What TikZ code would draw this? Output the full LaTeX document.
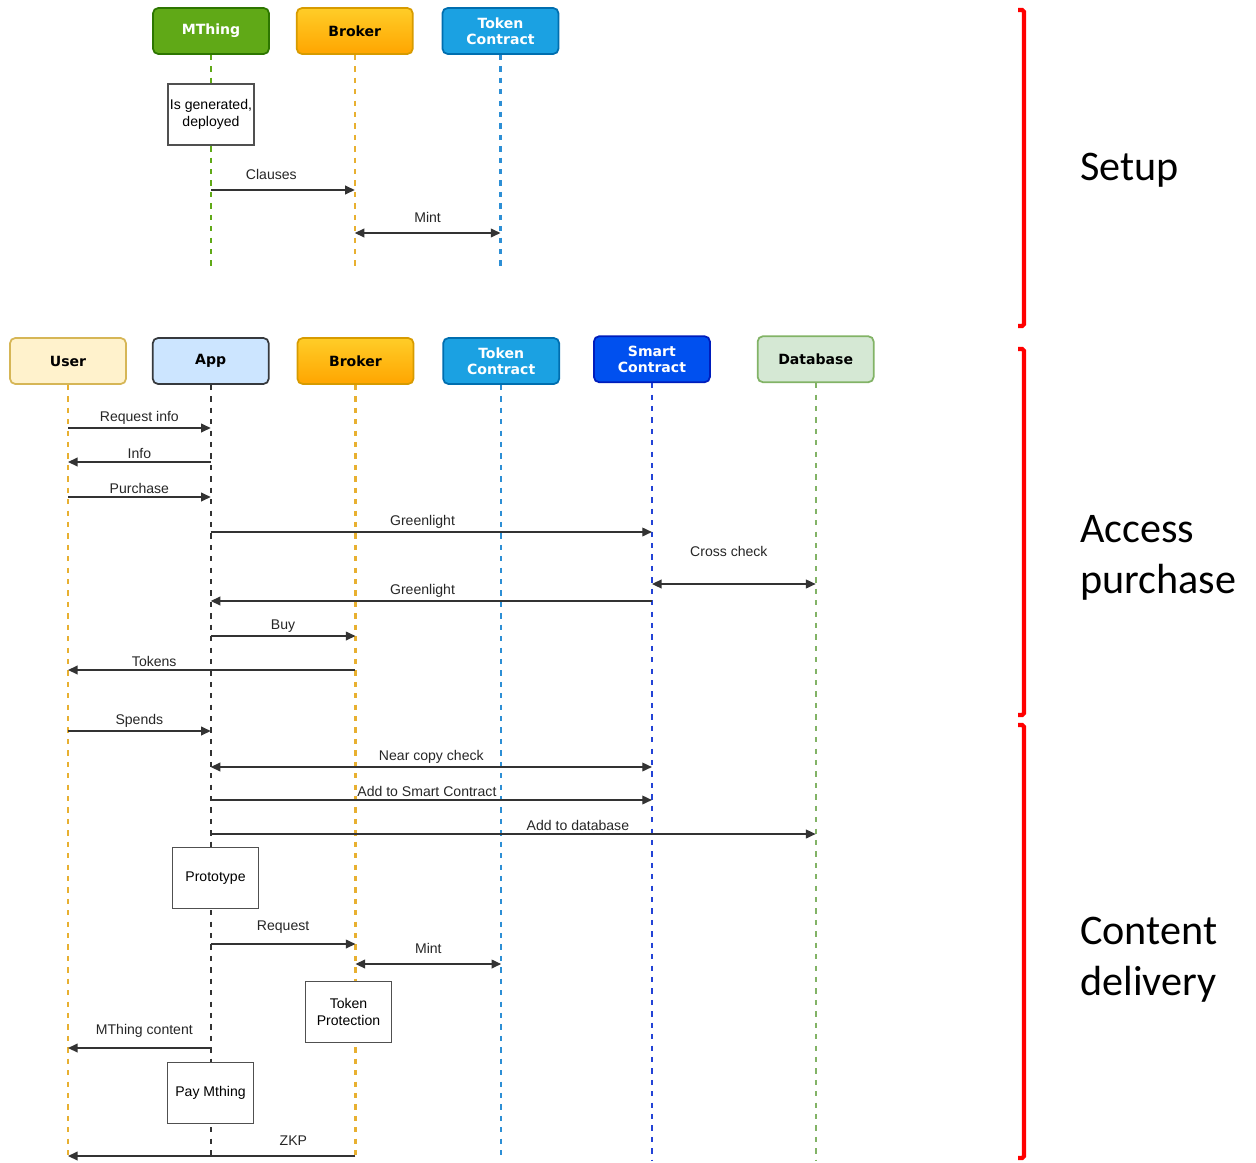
\documentclass[tikz,border=0pt]{standalone}
\usepackage{fontspec}
\setmainfont{Liberation Sans}
\newfontfamily\headfont{DejaVu Sans}
\newfontfamily\sidefont{Carlito}
\usepackage{tikz}
\usetikzlibrary{positioning,arrows.meta}
\definecolor{mthFill}{HTML}{60A917}
\definecolor{mthDraw}{HTML}{2D7600}
\definecolor{brkTop}{HTML}{FFCD28}
\definecolor{brkBot}{HTML}{FFA500}
\definecolor{brkDraw}{HTML}{D79B00}
\definecolor{tokFill}{HTML}{1BA1E2}
\definecolor{tokDraw}{HTML}{006EAF}
\definecolor{usrFill}{HTML}{FFF2CC}
\definecolor{usrDraw}{HTML}{D6B656}
\definecolor{appFill}{HTML}{CCE5FF}
\definecolor{appDraw}{HTML}{36393D}
\definecolor{scFill}{HTML}{0050EF}
\definecolor{scDraw}{HTML}{001DBC}
\definecolor{dbFill}{HTML}{D5E8D4}
\definecolor{dbDraw}{HTML}{82B366}
\definecolor{lifeGold}{HTML}{E8B030}
\definecolor{lifeBlue}{HTML}{2D8FD5}
\definecolor{lifeDeep}{HTML}{2343D6}
\definecolor{msgGray}{HTML}{333333}
\definecolor{boxGray}{HTML}{505050}
\tikzset{
  head/.style={draw, rounded corners=3pt, line width=1pt, minimum width=2.32cm, minimum height=0.92cm, inner sep=1pt, align=center, font=\headfont\bfseries\fontsize{8}{9}\selectfont},
  headMThing/.style={head, fill=mthFill, draw=mthDraw, text=white},
  headBroker/.style={head, top color=brkTop, bottom color=brkBot, draw=brkDraw},
  headToken/.style={head, fill=tokFill, draw=tokDraw, text=white},
  headUser/.style={head, fill=usrFill, draw=usrDraw},
  headApp/.style={head, fill=appFill, draw=appDraw},
  headSmart/.style={head, fill=scFill, draw=scDraw, text=white},
  headDb/.style={head, fill=dbFill, draw=dbDraw},
  life/.style={line width=1.2pt, dash pattern=on 3pt off 3.5pt},
  lifeMThing/.style={life, draw=mthFill},
  lifeBroker/.style={life, draw=lifeGold},
  lifeToken/.style={life, draw=lifeBlue},
  lifeUser/.style={life, draw=lifeGold},
  lifeApp/.style={life, draw=msgGray},
  lifeSmart/.style={life, draw=lifeDeep},
  lifeDb/.style={life, draw=dbDraw},
  actBox/.style={draw=boxGray, fill=white, line width=0.9pt, minimum width=1.72cm, minimum height=1.22cm, inner sep=1pt, align=center, font=\fontsize{8}{9.5}\selectfont},
  msg/.style={-{Triangle[length=5.5pt,width=5pt]}, draw=msgGray, line width=0.8pt},
  msgBoth/.style={{Triangle[length=5.5pt,width=5pt]}-{Triangle[length=5.5pt,width=5pt]}, draw=msgGray, line width=0.8pt},
  msgLabel/.style={above, inner sep=1.5pt, font=\fontsize{8}{9}\selectfont, text=black!85},
  msgLabelHigh/.style={msgLabel, yshift=4pt},
  phase/.style={draw=red, line width=2.3pt, rounded corners=1pt},
  phaseLabel/.style={anchor=west, align=left, font=\sidefont\fontsize{24}{29}\selectfont}
}
\begin{document}
\begin{tikzpicture}[x=0.02cm, y=-0.02cm]
  \useasboundingbox (0,0) rectangle (1256,1162);

  % setup phase
  \node[headMThing] (mthing) at (211,31) {MThing};
  \node[headBroker, right=0.52cm of mthing] (brokerA) {Broker};
  \node[headToken, right=0.56cm of brokerA] (tokenA) {Token\\Contract};

  \draw[lifeMThing] (mthing) -- (mthing |- 0,266);
  \draw[lifeBroker] (brokerA) -- (brokerA |- 0,266);
  \draw[lifeToken] (tokenA) -- (tokenA |- 0,266);

  \node[actBox] (genBox) at (211,114.5) {Is generated,\\deployed};

  \draw[msg] (mthing |- 0,190) -- node[msgLabelHigh, pos=0.42]{Clauses} (brokerA |- 0,190);
  \draw[msgBoth] (brokerA |- 0,233) -- node[msgLabelHigh]{Mint} (tokenA |- 0,233);

  % access purchase + content delivery
  \node[headUser] (user) at (68,361) {User};
  \node[headApp, right=0.50cm of user] (app) {App};
  \node[headBroker, right=0.54cm of app] (broker) {Broker};
  \node[headToken, right=0.56cm of broker] (token) {Token\\Contract};
  \node[headSmart, right=0.66cm of token, yshift=1pt] (smart) {Smart\\Contract};
  \node[headDb, right=0.92cm of smart] (db) {Database};

  \draw[lifeUser] (user) -- (user |- 0,1160);
  \draw[lifeApp] (app) -- (app |- 0,1160);
  \draw[lifeBroker] (broker) -- (broker |- 0,1160);
  \draw[lifeToken] (token) -- (token |- 0,1160);
  \draw[lifeSmart] (smart) -- (smart |- 0,1160);
  \draw[lifeDb] (db) -- (db |- 0,1160);

  \node[actBox] (protoBox) at (215.5,878) {Prototype};
  \node[actBox] (tokProtBox) at (348.5,1012) {Token\\Protection};
  \node[actBox] (payBox) at (210.5,1093) {Pay Mthing};

  \draw[msg] (user |- 0,428) -- node[msgLabel]{Request info} (app |- 0,428);
  \draw[msg] (app |- 0,462) -- node[msgLabel]{Info} (user |- 0,462);
  \draw[msg] (user |- 0,497) -- node[msgLabel]{Purchase} (app |- 0,497);
  \draw[msg] (app |- 0,532) -- node[msgLabel, pos=0.48]{Greenlight} (smart |- 0,532);
  \draw[msgBoth] (smart |- 0,584) -- node[msgLabel, yshift=13.5pt, pos=0.47]{Cross check} (db |- 0,584);
  \draw[msg] (smart |- 0,601) -- node[msgLabel, pos=0.52]{Greenlight} (app |- 0,601);
  \draw[msg] (app |- 0,636) -- node[msgLabel]{Buy} (broker |- 0,636);
  \draw[msg] (broker |- 0,670) -- node[msgLabel, pos=0.7]{Tokens} (user |- 0,670);
  \draw[msg] (user |- 0,731) -- node[msgLabel]{Spends} (app |- 0,731);
  \draw[msgBoth] (app |- 0,767) -- node[msgLabel]{Near copy check} (smart |- 0,767);
  \draw[msg] (app |- 0,800) -- node[msgLabel, pos=0.49]{Add to Smart Contract} (smart |- 0,800);
  \draw[msg] (app |- 0,834) -- node[msgLabel, pos=0.607]{Add to database} (db |- 0,834);

  \draw[msg] (app |- 0,944) -- node[msgLabelHigh]{Request} (broker |- 0,944);
  \draw[msgBoth] (broker |- 0,964) -- node[msgLabelHigh]{Mint} (token |- 0,964);
  \draw[msg] (app |- 0,1048) -- node[msgLabelHigh, pos=0.465]{MThing content} (user |- 0,1048);
  \draw[msg] (broker |- 0,1156) -- node[msgLabelHigh, pos=0.216]{ZKP} (user |- 0,1156);

  % phase brackets
  \draw[phase] (1018,10) -- (1024,10) -- (1024,326) -- (1018,326);
  \draw[phase] (1018,349) -- (1024,349) -- (1024,715) -- (1018,715);
  \draw[phase] (1018,725) -- (1024,725) -- (1024,1158) -- (1018,1158);
  \node[phaseLabel] (setupLbl) at (1074,170) {Setup};
  \node[phaseLabel] (accessLbl) at (1074,558) {Access\\purchase};
  \node[phaseLabel] (deliveryLbl) at (1074,960) {Content\\delivery};
\end{tikzpicture}
\end{document}
